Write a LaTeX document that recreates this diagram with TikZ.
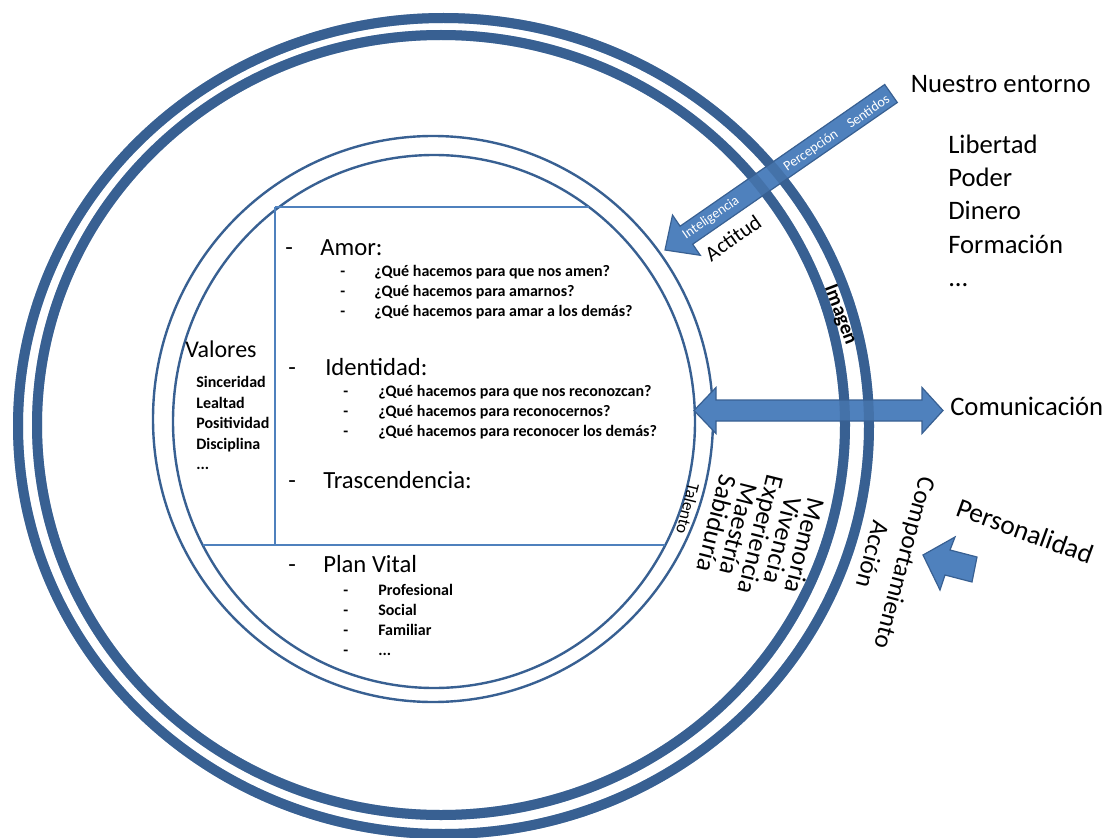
\documentclass[tikz,border=0pt]{standalone}
\usepackage{fontspec}
\setmainfont{Carlito}
\usetikzlibrary{positioning}

\definecolor{ringblue}{RGB}{56,96,146}
\definecolor{fillblue}{RGB}{79,129,189}

\tikzset{
  ring/.style={draw=ringblue, line width=7.5pt},
  thinring/.style={draw=ringblue, line width=1.8pt},
  tableline/.style={draw=fillblue, line width=0.8pt},
  blockarrow/.style={fill=fillblue, draw=ringblue, line width=0.9pt, line join=miter},
  txt/.style={inner sep=0pt, anchor=base west},
  topic/.style={txt, font=\fontsize{18.5}{22}\selectfont},
  question/.style={txt, font=\bfseries\fontsize{12}{14}\selectfont},
  outer/.style={txt, font=\fontsize{20}{24}\selectfont},
  onarrow/.style={inner sep=0pt, rotate=34.7, text=white, font=\fontsize{10.5}{12}\selectfont},
}

\begin{document}
\begin{tikzpicture}[x=0.75pt, y=-0.75pt]
    \useasboundingbox (0,0) rectangle (1117,838);

    % double ring and the two thin circles
    \draw[ring] (443.5,426) ellipse [x radius=425.5, y radius=408];
    \draw[ring] (441,425) ellipse [x radius=404, y radius=390];
    \draw[thinring] (433,419) ellipse [x radius=280, y radius=283];
    \draw[thinring] (434,421.5) ellipse [x radius=261, y radius=266.5];

    % table inside the inner circle
    \draw[tableline] (275,207) -- (588.8,207);
    \draw[tableline] (275,207) -- (275,545);
    \draw[tableline] (202.7,545) -- (665.3,545);

    % block arrows
    \filldraw[blockarrow] (665,250) -- (672.5,215.1) -- (680.1,226.2) -- (884.7,84.5)
        -- (897.3,102.5) -- (692.7,244.2) -- (700.3,255.3) -- cycle;
    \filldraw[blockarrow] (694,410.5) -- (716,387.5) -- (716,400) -- (922,400) -- (922,387.5)
        -- (943,410.5) -- (922,433.5) -- (922,421) -- (716,421) -- (716,433.5) -- cycle;
    \filldraw[blockarrow] (923,555) -- (955,537) -- (950,550) -- (977,557)
        -- (972,582) -- (945,575) -- (940,590) -- cycle;

    % rings seen through the arrows
    \draw[ring, draw opacity=0.45] (443.5,426) ellipse [x radius=425.5, y radius=408];
    \draw[ring, draw opacity=0.45] (441,425) ellipse [x radius=404, y radius=390];

    % texts on the arrow
    \node[onarrow] (intel) at (711,218) {Inteligencia};
    \node[onarrow] (percep) at (811,151) {Percepción};
    \node[onarrow] (sentidos) at (868,111) {Sentidos};

    \node[rotate=35, inner sep=0pt, font=\fontsize{16}{18}\selectfont] (actitud) at (733,238) {Actitud};
    \node[rotate=-69, inner sep=0pt, font=\bfseries\fontsize{15}{18}\selectfont] (imagen) at (840,315) {Imagen};
    \node[rotate=-104, inner sep=0pt, font=\fontsize{13}{15}\selectfont] (talento) at (688,509) {Talento};
    \node[rotate=-104, inner sep=0pt, align=center, font=\fontsize{19.5}{17}\selectfont] (saber) at (761,535)
        {Memoria\\Vivencia\\Experiencia\\Maestría\\Sabiduría};
    \node[rotate=-105, inner sep=0pt, align=center, font=\fontsize{19}{25}\selectfont] (conducta) at (889,559)
        {Comportamiento\\Acción};
    \node[rotate=-20, inner sep=0pt, font=\fontsize{20.5}{24}\selectfont] (personalidad) at (1025,531) {Personalidad};

    % right hand side
    \node[outer] (entorno) at (910.7,92.3) {Nuestro entorno};
    \node[outer] (libertad) at (948,153.3) {Libertad};
    \node[outer] (poder) at (948,186.7) {Poder};
    \node[outer] (dinero) at (948,219.3) {Dinero};
    \node[outer] (formacion) at (948,253.3) {Formación};
    \node[outer] (etc) at (948,286.7) {...};
    \node[outer] (comunicacion) at (950,415) {Comunicación};

    % values column
    \node[txt, font=\fontsize{18}{22}\selectfont] (valores) at (185,357.5) {Valores};
    \node[question] (sinceridad) at (196,387.3) {Sinceridad};
    \node[question] (lealtad) at (196,408.3) {Lealtad};
    \node[question] (positividad) at (196,428.7) {Positividad};
    \node[question] (disciplina) at (196,449) {Disciplina};
    \node[question] (valetc) at (196,469.5) {...};

    % Amor
    \node[topic] (amordash) at (285,255) {-};
    \node[topic] (amor) at (320,255) {Amor:};
    \node[question] (a1dash) at (340,276.7) {-};
    \node[question] (a1) at (374,276.7) {¿Qué hacemos para que nos amen?};
    \node[question] (a2dash) at (340,296.7) {-};
    \node[question] (a2) at (374,296.7) {¿Qué hacemos para amarnos?};
    \node[question] (a3dash) at (340,316.7) {-};
    \node[question] (a3) at (374,316.7) {¿Qué hacemos para amar a los demás?};

    % Identidad
    \node[topic] (identdash) at (288,375) {-};
    \node[topic] (ident) at (325,375) {Identidad:};
    \node[question] (i1dash) at (343,396.7) {-};
    \node[question] (i1) at (378,396.7) {¿Qué hacemos para que nos reconozcan?};
    \node[question] (i2dash) at (343,416.7) {-};
    \node[question] (i2) at (378,416.7) {¿Qué hacemos para reconocernos?};
    \node[question] (i3dash) at (343,436.7) {-};
    \node[question] (i3) at (378,436.7) {¿Qué hacemos para reconocer los demás?};

    % Trascendencia
    \node[topic] (trascdash) at (288,488) {-};
    \node[topic] (trasc) at (323,488) {Trascendencia:};

    % Plan Vital
    \node[topic] (plandash) at (288,572) {-};
    \node[topic] (plan) at (323,572) {Plan Vital};
    \node[question] (p1dash) at (343,595) {-};
    \node[question] (p1) at (378,595) {Profesional};
    \node[question] (p2dash) at (343,615) {-};
    \node[question] (p2) at (378,615) {Social};
    \node[question] (p3dash) at (343,635) {-};
    \node[question] (p3) at (378,635) {Familiar};
    \node[question] (p4dash) at (343,655) {-};
    \node[question] (p4) at (378,655) {...};
\end{tikzpicture}
\end{document}
